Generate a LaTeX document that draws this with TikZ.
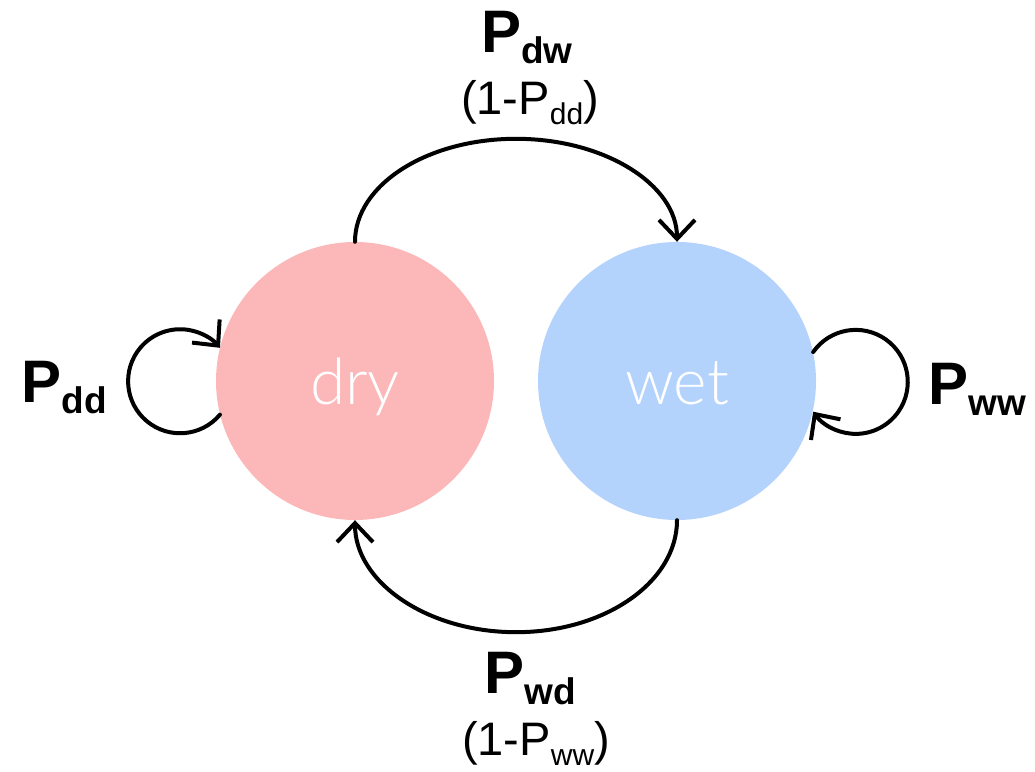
\documentclass[tikz,border=0pt]{standalone}
\usepackage{fontspec}
\setmainfont{Liberation Sans}
\newfontfamily\thinfont{Lato Light}
\usepackage{tikz}
\usetikzlibrary{arrows.meta}
\definecolor{drypink}{HTML}{FCB8B9}
\definecolor{wetblue}{HTML}{B4D3FC}
\newcommand{\boldprob}[1]{\fontsize{60}{60}\selectfont\bfseries P\raisebox{-11pt}{\fontsize{37}{37}\selectfont #1}}
\newcommand{\compprob}[1]{\fontsize{47}{47}\selectfont (1-P\raisebox{-10pt}{\fontsize{30}{30}\selectfont #1})}
\tikzset{
  every picture/.style={line join=round, line cap=round, >={Straight Barb[length=19pt,width=36pt]}},
  state/.style={circle, minimum size=278pt, inner sep=0pt, text=white, text height=48pt, text depth=0pt, font=\thinfont\fontsize{64}{64}\selectfont},
  trans/.style={line width=4pt, ->},
  problabel/.style={anchor=base, inner sep=0pt},
}

\begin{document}
\begin{tikzpicture}[x=1pt,y=1pt]
\useasboundingbox (0,0) rectangle (1035,771);
\node[state,fill=drypink] (dry) at (355,390) {dry};
\node[state,fill=wetblue] (wet) at (677,390) {wet};
% transitions between the states
\draw[trans] (dry.north) arc[start angle=180,end angle=0,x radius=161,y radius=103];
\draw[trans] (wet.south) arc[start angle=0,end angle=-180,x radius=161,y radius=112];
% self loops
\draw[trans] (dry.194) arc[start angle=-40,end angle=-320,radius=52];
\draw[trans] (wet.12) arc[start angle=145,end angle=-145,radius=52];
% labels
\node[problabel] (pdw) at (527,718) {\boldprob{dw}};
\node[problabel] (qdd) at (530,656) {\compprob{dd}};
\node[problabel] (pdd) at (64,368) {\boldprob{dd}};
\node[problabel] (pww) at (977,366) {\boldprob{ww}};
\node[problabel] (pwd) at (530,78) {\boldprob{wd}};
\node[problabel] (qww) at (536,16) {\compprob{ww}};
\end{tikzpicture}
\end{document}
